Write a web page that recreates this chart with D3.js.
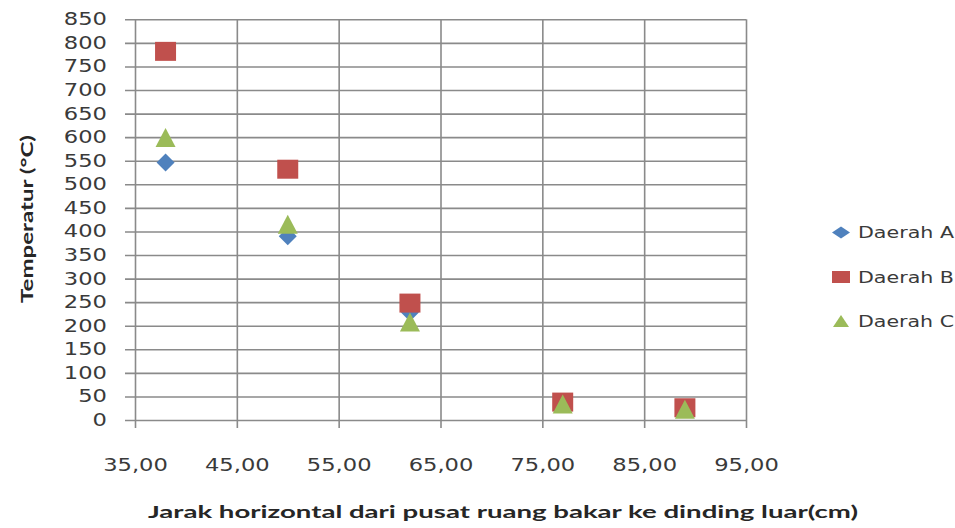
<!DOCTYPE html>
<html><head><meta charset="utf-8">
<script src="https://cdn.jsdelivr.net/npm/d3@7"></script>
<style>html,body{margin:0;padding:0;background:#fff;}svg{display:block;}</style>
</head><body>
<svg id="chart" width="955" height="528"></svg>
<script>
const xValues = [38, 50, 62, 77, 89];
const daerahA = [546, 390, 228, 35, 24];
const daerahB = [782, 532, 248, 38, 26];
const daerahC = [599, 415, 208, 34, 23];
const seriesNames = ["Daerah A", "Daerah B", "Daerah C"];
const xTicks = [35, 45, 55, 65, 75, 85, 95];
const yTicks = d3.range(0, 851, 50);
const xTitle = "Jarak horizontal dari pusat ruang bakar ke dinding luar(cm)";
const yTitle = "Temperatur (°C)";

const colors = ["#4F81BD", "#C0504D", "#9BBB59"];
const shapes = [
  "M0,-9L9,0L0,9L-9,0Z",
  "M-10.5,-9.5H10.5V9.5H-10.5Z",
  "M0,-9.5L10,9.5L-10,9.5Z"
];
const legendShapes = [
  "M0,-6L9,0L0,6L-9,0Z",
  "M-9,-6H9V6H-9Z",
  "M0,-6L8,6L-8,6Z"
];

const svg = d3.select("#chart");
svg.append("rect").attr("width", 955).attr("height", 528).attr("fill", "#fff");

const L = 135, R = 746, T = 19.3, B = 420;
const x = d3.scaleLinear().domain([35, 95]).range([L, R]);
const y = d3.scaleLinear().domain([0, 850]).range([B, T]);

function stretch(sel, k) {
  sel.each(function () {
    const w = this.getComputedTextLength();
    d3.select(this).attr("textLength", w * k).attr("lengthAdjust", "spacingAndGlyphs");
  });
}

const fmt = d3.formatLocale({decimal: ",", thousands: ".", grouping: [3], currency: ["", ""]}).format(".2f");

// Y axis with gridlines
const gy = svg.append("g").attr("transform", `translate(${L},0)`)
  .call(d3.axisLeft(y).tickValues(yTicks).tickSize(-(R - L)).tickPadding(28));
gy.select(".domain").remove();
gy.selectAll(".tick line").attr("x1", -10).attr("stroke", "#8a8a8a").attr("stroke-width", 1.6);
gy.selectAll(".tick text").attr("font-family", "DejaVu Sans").attr("font-size", 17).attr("fill", "#3a3a3a");
stretch(gy.selectAll(".tick text"), 1.33);

// X axis with gridlines
const gx = svg.append("g").attr("transform", `translate(0,${B})`)
  .call(d3.axisBottom(x).tickValues(xTicks).tickFormat(fmt).tickSize(-(B - T)).tickPadding(39));
gx.select(".domain").remove();
gx.selectAll(".tick line").attr("y1", 8).attr("stroke", "#8a8a8a").attr("stroke-width", 1.6);
gx.selectAll(".tick text").attr("font-family", "DejaVu Sans").attr("font-size", 17).attr("fill", "#3a3a3a");
stretch(gx.selectAll(".tick text"), 1.33);

// Series
const allSeries = [daerahA, daerahB, daerahC];
allSeries.forEach((vals, i) => {
  svg.append("g").selectAll("path").data(vals.map((v, j) => ({x: xValues[j], y: v})))
    .join("path")
    .attr("transform", d => `translate(${x(d.x)},${y(d.y)})`)
    .attr("d", shapes[i])
    .attr("fill", colors[i]);
});

// Legend
const legY = [232.5, 277, 321];
seriesNames.forEach((name, i) => {
  const g = svg.append("g").attr("transform", `translate(841,${legY[i]})`);
  g.append("path").attr("d", legendShapes[i]).attr("fill", colors[i]);
  g.append("text").attr("x", 17).attr("dy", "0.36em")
    .attr("font-family", "DejaVu Sans").attr("font-size", 16.5).attr("fill", "#3a3a3a")
    .attr("textLength", 96).attr("lengthAdjust", "spacingAndGlyphs").text(name);
});

// Titles
svg.append("text").attr("x", 503).attr("y", 518).attr("text-anchor", "middle")
  .attr("font-family", "Lato").attr("font-weight", "bold").attr("font-size", 17)
  .attr("fill", "#262626").attr("textLength", 710).attr("lengthAdjust", "spacingAndGlyphs").text(xTitle);

svg.append("text").attr("transform", "translate(33,219) rotate(-90)").attr("text-anchor", "middle")
  .attr("font-family", "Lato").attr("font-weight", "bold").attr("font-size", 17)
  .attr("fill", "#262626").attr("textLength", 168).attr("lengthAdjust", "spacingAndGlyphs").text(yTitle);
</script>
</body></html>
